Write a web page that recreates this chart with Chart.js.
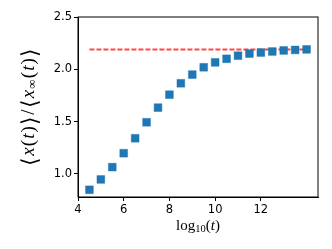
<!DOCTYPE html>
<html>
<head>
<meta charset="utf-8">
<script src="https://cdn.jsdelivr.net/npm/chart.js@4/dist/chart.umd.min.js"></script>
<style>
  html, body { margin: 0; padding: 0; background: #fff; }
  #wrap { width: 332px; height: 249px; }
</style>
</head>
<body>
<div id="wrap"><canvas id="ratioChart" width="332" height="249"></canvas></div>
<script>
// log10(t) positions and measured ratio <x(t)>/<x_inf(t)>
const logT = [4.5, 5, 5.5, 6, 6.5, 7, 7.5, 8, 8.5, 9, 9.5, 10, 10.5, 11, 11.5, 12, 12.5, 13, 13.5, 14];
const ratio = [0.847, 0.946, 1.064, 1.197, 1.340, 1.493, 1.633, 1.757, 1.866, 1.949,
  2.019, 2.066, 2.100, 2.130, 2.150, 2.160, 2.170, 2.180, 2.185, 2.190];
// asymptotic value (dashed red line)
const limitX = [4.5, 14];
const limitY = [2.19, 2.19];
const xTicks = [4, 6, 8, 10, 12];
const yTicks = [1.0, 1.5, 2.0, 2.5];

const serif = "'Liberation Serif', 'DejaVu Serif', serif";

function drawRuns(ctx, runs, cx, cy, angle, target) {
  ctx.save();
  ctx.translate(cx, cy);
  ctx.rotate(angle);
  ctx.fillStyle = "#000";
  ctx.textBaseline = "middle";
  ctx.textAlign = "left";
  let total = 0;
  const widths = runs.map((r) => {
    ctx.font = r.font;
    const w = ctx.measureText(r.t).width;
    total += w;
    return w;
  });
  const gap = target ? (target - total) / (runs.length - 1) : 0;
  let x = -(total + gap * (runs.length - 1)) / 2;
  runs.forEach((r, i) => {
    ctx.font = r.font;
    ctx.fillText(r.t, x, r.dy || 0);
    x += widths[i] + gap;
  });
  ctx.restore();
}

const framePlugin = {
  id: "frame",
  afterDraw(chart) {
    const { ctx, chartArea: a } = chart;
    ctx.save();
    ctx.strokeStyle = "#000";
    ctx.lineWidth = 1;
    ctx.strokeRect(a.left, a.top, a.right - a.left, a.bottom - a.top);
    ctx.restore();

    const up = "300 22px 'Noto Sans CJK JP', 'DejaVu Sans', sans-serif";
    const it = "italic 19px " + serif;
    const rm = "19px " + serif;
    drawRuns(ctx, [
      { t: "\u27E8", font: up },
      { t: "x", font: it },
      { t: "(", font: rm },
      { t: "t", font: it },
      { t: ")", font: rm },
      { t: "\u27E9", font: up },
      { t: "/", font: rm },
      { t: "\u27E8", font: up },
      { t: "x", font: it },
      { t: "\u221E", font: "13px " + serif, dy: 4 },
      { t: "(", font: rm },
      { t: "t", font: it },
      { t: ")", font: rm },
      { t: "\u27E9", font: up },
    ], 29, (a.top + a.bottom) / 2, -Math.PI / 2, 118);

    drawRuns(ctx, [
      { t: "log", font: "15px " + serif },
      { t: "10", font: "10.5px " + serif, dy: 3 },
      { t: "(", font: "15px " + serif },
      { t: "t", font: "italic 15px " + serif },
      { t: ")", font: "15px " + serif },
    ], (a.left + a.right) / 2, 226, 0, 0);
  },
};

const tickFont = { family: "'DejaVu Sans', sans-serif", size: 11.5 };

new Chart(document.getElementById("ratioChart").getContext("2d"), {
  type: "scatter",
  data: {
    datasets: [
      {
        type: "line",
        data: limitX.map((x, i) => ({ x: x, y: limitY[i] })),
        borderColor: "rgba(255, 0, 0, 0.72)",
        borderWidth: 2,
        borderDash: [5, 2],
        pointRadius: 0,
        fill: false,
        order: 2,
      },
      {
        data: logT.map((x, i) => ({ x: x, y: ratio[i] })),
        pointStyle: "rect",
        pointRadius: 5.5,
        backgroundColor: "#1f77b4",
        borderColor: "rgba(31, 119, 180, 0.45)",
        borderWidth: 1,
        order: 1,
      },
    ],
  },
  options: {
    responsive: false,
    animation: false,
    layout: { padding: { top: 17, right: 14, left: 0, bottom: 0 } },
    plugins: { legend: { display: false }, tooltip: { enabled: false } },
    scales: {
      x: {
        type: "linear",
        min: 4,
        max: 14.5,
        afterBuildTicks: (s) => { s.ticks = xTicks.map((v) => ({ value: v })); },
        afterFit: (s) => { s.height = 52; },
        ticks: { font: tickFont, color: "#000", padding: 2, maxRotation: 0 },
        grid: { drawOnChartArea: false, tickLength: 4, tickColor: "#000" },
        border: { color: "#000" },
      },
      y: {
        min: 0.778,
        max: 2.5,
        afterBuildTicks: (s) => { s.ticks = yTicks.map((v) => ({ value: v })); },
        afterFit: (s) => { s.width = 78; },
        ticks: {
          font: tickFont,
          color: "#000",
          padding: 2,
          callback: (v) => Number(v).toFixed(1),
        },
        grid: { drawOnChartArea: false, tickLength: 4, tickColor: "#000" },
        border: { color: "#000" },
      },
    },
  },
  plugins: [framePlugin],
});
</script>
</body>
</html>
